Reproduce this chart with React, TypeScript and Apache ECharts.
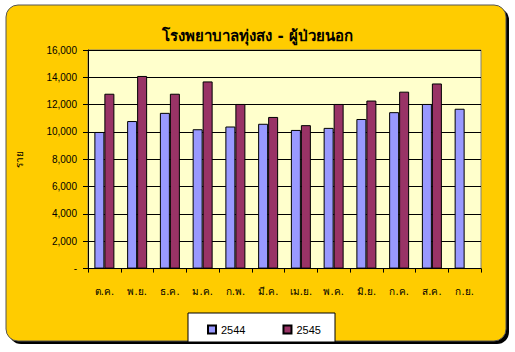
import React, { useEffect, useRef } from "react";
import * as echarts from "echarts";

const categories = ["ต.ค.", "พ.ย.", "ธ.ค.", "ม.ค.", "ก.พ.", "มี.ค.", "เม.ย.", "พ.ค.", "มิ.ย.", "ก.ค.", "ส.ค.", "ก.ย."];
const series2544 = [10000, 10800, 11400, 10200, 10400, 10600, 10150, 10300, 10950, 11450, 12050, 11700];
const series2545 = [12800, 14100, 12800, 13700, 12050, 11100, 10500, 12050, 12300, 12950, 13550, null];
const seriesNames = ["2544", "2545"];
const titleText = "โรงพยาบาลทุ่งสง - ผู้ป่วยนอก";
const yAxisName = "ราย";

export default function App() {
  const ref = useRef<HTMLDivElement>(null);
  useEffect(() => {
    if (!ref.current) return;
    const chart = echarts.init(ref.current, null, { renderer: "svg" });
    const font = "Arial, 'Liberation Sans', sans-serif";
    const thaiFont = "Tahoma, 'DejaVu Sans', 'Noto Sans', sans-serif";
    chart.setOption({
      animation: false,
      backgroundColor: "#ffffff",
      graphic: [
        { type: "rect", z: -10, shape: { x: 9, y: 8, width: 500, height: 336, r: 12 }, style: { fill: "#000000" } },
        { type: "rect", z: -9, shape: { x: 6, y: 5, width: 500, height: 336, r: 12 }, style: { fill: "#FFCC00", stroke: "#555555", lineWidth: 1 } },
        { type: "rect", z: -8, shape: { x: 88, y: 50, width: 393, height: 218.6 }, style: { fill: "#FFFFCC", stroke: "#808080", lineWidth: 1 } },
        { type: "rect", z: 5, shape: { x: 188, y: 313, width: 147, height: 29 }, style: { fill: "#ffffff", stroke: "#000000", lineWidth: 1 } },
      ],
      title: {
        text: titleText,
        left: "center",
        top: 23,
        textStyle: { fontFamily: thaiFont, fontWeight: "bold", fontSize: 15, color: "#000" },
      },
      legend: {
        data: seriesNames,
        left: 202,
        top: 319,
        z: 10,
        icon: "rect",
        itemWidth: 8,
        itemHeight: 8,
        itemGap: 37,
        textStyle: { fontFamily: font, fontSize: 11, color: "#000" },
      },
      grid: { left: 88, right: 34, top: 50, bottom: 83.4 },
      xAxis: {
        type: "category",
        data: categories,
        axisLine: { lineStyle: { color: "#000", width: 1 } },
        axisTick: { show: true, interval: 0, length: 4, lineStyle: { color: "#000" } },
        axisLabel: { interval: 0, margin: 18, fontFamily: thaiFont, fontSize: 10, color: "#000" },
      },
      yAxis: {
        type: "value",
        min: 0,
        max: 16000,
        interval: 2000,
        name: yAxisName,
        nameLocation: "middle",
        nameGap: 64,
        nameRotate: 90,
        nameTextStyle: { fontFamily: thaiFont, fontSize: 10, color: "#000" },
        axisLine: { show: true, lineStyle: { color: "#000", width: 1 } },
        axisTick: { show: true, inside: false, length: 5, lineStyle: { color: "#000" } },
        axisLabel: {
          fontFamily: font,
          fontSize: 10,
          color: "#000",
          margin: 11,
          formatter: (v: number) => (v === 0 ? "-" : v.toLocaleString("en-US")),
        },
        splitLine: { show: true, lineStyle: { color: "#000", width: 1 } },
      },
      series: [
        {
          name: seriesNames[0],
          type: "bar",
          data: series2544,
          barWidth: 10,
          barGap: "0%",
          itemStyle: { color: "#9999FF", borderColor: "#000", borderWidth: 1 },
        },
        {
          name: seriesNames[1],
          type: "bar",
          data: series2545,
          barWidth: 10,
          barGap: "0%",
          itemStyle: { color: "#993366", borderColor: "#000", borderWidth: 1 },
        },
      ],
    });
    return () => chart.dispose();
  }, []);
  return <div ref={ref} style={{ position: "absolute", left: 0, top: 0, width: 515, height: 352 }} />;
}
